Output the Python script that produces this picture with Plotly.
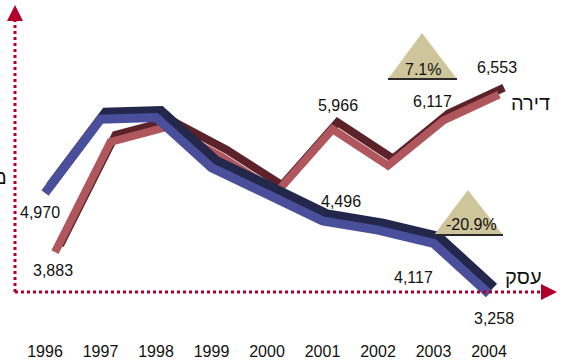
import plotly.graph_objects as go

# data
years = [1996, 1997, 1998, 1999, 2000, 2001, 2002, 2003, 2004]
year_labels = [str(y) for y in years]
dira = [3883, 5750, 6000, 5500, 4900, 5966, 5350, 6117, 6553]   # red series
esek = [4970, 6220, 6250, 5400, 4950, 4496, 4340, 4117, 3258]   # blue series
dira_name = "דירה"
esek_name = "עסק"
left_label = "מ"

# which points carry a value label, with pixel nudges
dira_labels = {0: (-2, -18), 5: (5, 24), 7: (-11, 19), 8: (-2, 27)}
esek_labels = {0: (-5, -19), 5: (18, 19), 7: (-20, -34), 8: (5, -24)}

W, H = 566, 361
ML, MR, MT, MB = 15, 11, 15, 61
PW, PH = W - ML - MR, H - MT - MB
AXIS_PY = 292          # pixel row of the dotted x axis
px_x = 55.5            # pixels per year
px_y = 0.059           # pixels per unit
X0 = 1996 - (45 - ML) / px_x
X1 = X0 + PW / px_x
Y0 = 3292 - (MT + PH - AXIS_PY) / px_y
Y1 = Y0 + PH / px_y

AXIS = "#b1002d"
FONT = "Liberation Sans, Arial, sans-serif"


def dx(p):
    return p / px_x


def dy(p):
    return p / px_y


def paper(px, py):
    return (px - ML) / PW, (MT + PH - py) / PH


fig = go.Figure()


def ribbon(xs, ys, front, top, w):
    # fake 3D: dark top face shifted up/right, light front face on top
    fig.add_trace(go.Scatter(
        x=[x + dx(5) for x in xs], y=[y + dy(7) for y in ys],
        mode="lines", line=dict(color=top, width=w),
        hoverinfo="skip", showlegend=False))
    fig.add_trace(go.Scatter(
        x=xs, y=ys, mode="lines", line=dict(color=front, width=w),
        hoverinfo="skip", showlegend=False))


# red series sits one step deeper (shifted right and up)
dira_x = [y + dx(10) for y in years]
dira_y = [v + dy(5) for v in dira]
ribbon(dira_x, dira_y, "#b0565d", "#5b2229", 8)
ribbon(years, esek, "#4a4f9c", "#23274b", 9)

annotations = []
for i, (sx, sy) in dira_labels.items():
    annotations.append(dict(x=dira_x[i], y=dira_y[i], text=f"{dira[i]:,}",
                            xshift=sx, yshift=sy, showarrow=False))
for i, (sx, sy) in esek_labels.items():
    annotations.append(dict(x=years[i], y=esek[i], text=f"{esek[i]:,}",
                            xshift=sx, yshift=sy, showarrow=False))

# series names at line ends
annotations.append(dict(x=dira_x[-1], y=dira_y[-1], text=dira_name, xshift=31, yshift=-8,
                        showarrow=False, font=dict(size=20)))
annotations.append(dict(x=years[-1], y=esek[-1], text=esek_name, xshift=34, yshift=17,
                        showarrow=False, font=dict(size=20)))

# change triangles
dira_chg = (dira[-1] / dira[-2] - 1) * 100
esek_chg = (esek[-1] / esek[-2] - 1) * 100
shapes = []
for apex, bl, br, txt, tc in [
    ((422, 33), (388, 79), (457, 79), f"{dira_chg:.1f}%", (423, 69)),
    ((468, 190), (434, 235), (503, 235), f"{esek_chg:.1f}%", (471, 224)),
]:
    a, l, r = paper(*apex), paper(*bl), paper(*br)
    shapes.append(dict(type="path", xref="paper", yref="paper",
                       path=f"M {l[0]},{l[1]} L {a[0]},{a[1]} L {r[0]},{r[1]} Z",
                       fillcolor="#cfc59a", line=dict(width=0)))
    shapes.append(dict(type="line", xref="paper", yref="paper",
                       x0=l[0], y0=l[1], x1=r[0], y1=r[1],
                       line=dict(color="#2a2a2a", width=2)))
    c = paper(*tc)
    annotations.append(dict(x=c[0], y=c[1], xref="paper", yref="paper", text=txt,
                            xanchor="center", yanchor="middle", showarrow=False))

# dotted axes with arrowheads
ax0 = paper(15, AXIS_PY)
shapes.append(dict(type="line", xref="paper", yref="paper", x0=ax0[0], x1=ax0[0], y0=ax0[1],
                   y1=paper(0, 21)[1], line=dict(color=AXIS, width=3, dash="dot")))
shapes.append(dict(type="line", xref="paper", yref="paper", x0=ax0[0], x1=paper(542, 0)[0],
                   y0=ax0[1], y1=ax0[1], line=dict(color=AXIS, width=3, dash="dot")))
t, l, r = paper(15, 5), paper(7, 21), paper(23, 21)
shapes.append(dict(type="path", xref="paper", yref="paper",
                   path=f"M {l[0]},{l[1]} L {t[0]},{t[1]} L {r[0]},{r[1]} Z",
                   fillcolor=AXIS, line=dict(width=0)))
t, u, d = paper(557, AXIS_PY), paper(541, AXIS_PY - 8), paper(541, AXIS_PY + 8)
shapes.append(dict(type="path", xref="paper", yref="paper",
                   path=f"M {u[0]},{u[1]} L {t[0]},{t[1]} L {d[0]},{d[1]} Z",
                   fillcolor=AXIS, line=dict(width=0)))

# left label, cut by the edge as in the original
c = paper(9, 177)
annotations.append(dict(x=c[0], y=c[1], xref="paper", yref="paper", text=left_label,
                        xanchor="right", yanchor="middle", showarrow=False,
                        font=dict(size=20)))

fig.update_layout(
    width=W, height=H,
    margin=dict(l=ML, r=MR, t=MT, b=MB, autoexpand=False),
    paper_bgcolor="white", plot_bgcolor="white",
    font=dict(family=FONT, size=16, color="#111111"),
    showlegend=False, hovermode=False,
    annotations=annotations, shapes=shapes,
    xaxis=dict(range=[X0, X1], tickvals=years, ticktext=year_labels, automargin=False,
               showgrid=False, zeroline=False, showline=False, ticks="",
               ticklabelstandoff=40, tickfont=dict(size=16)),
    yaxis=dict(range=[Y0, Y1], showgrid=False, zeroline=False, showline=False,
               automargin=False, showticklabels=False),
)

# page body margin would shift the chart by 8px
fig.write_html("out.html", config={"displayModeBar": False},
               post_script="document.body.style.margin='0';")
